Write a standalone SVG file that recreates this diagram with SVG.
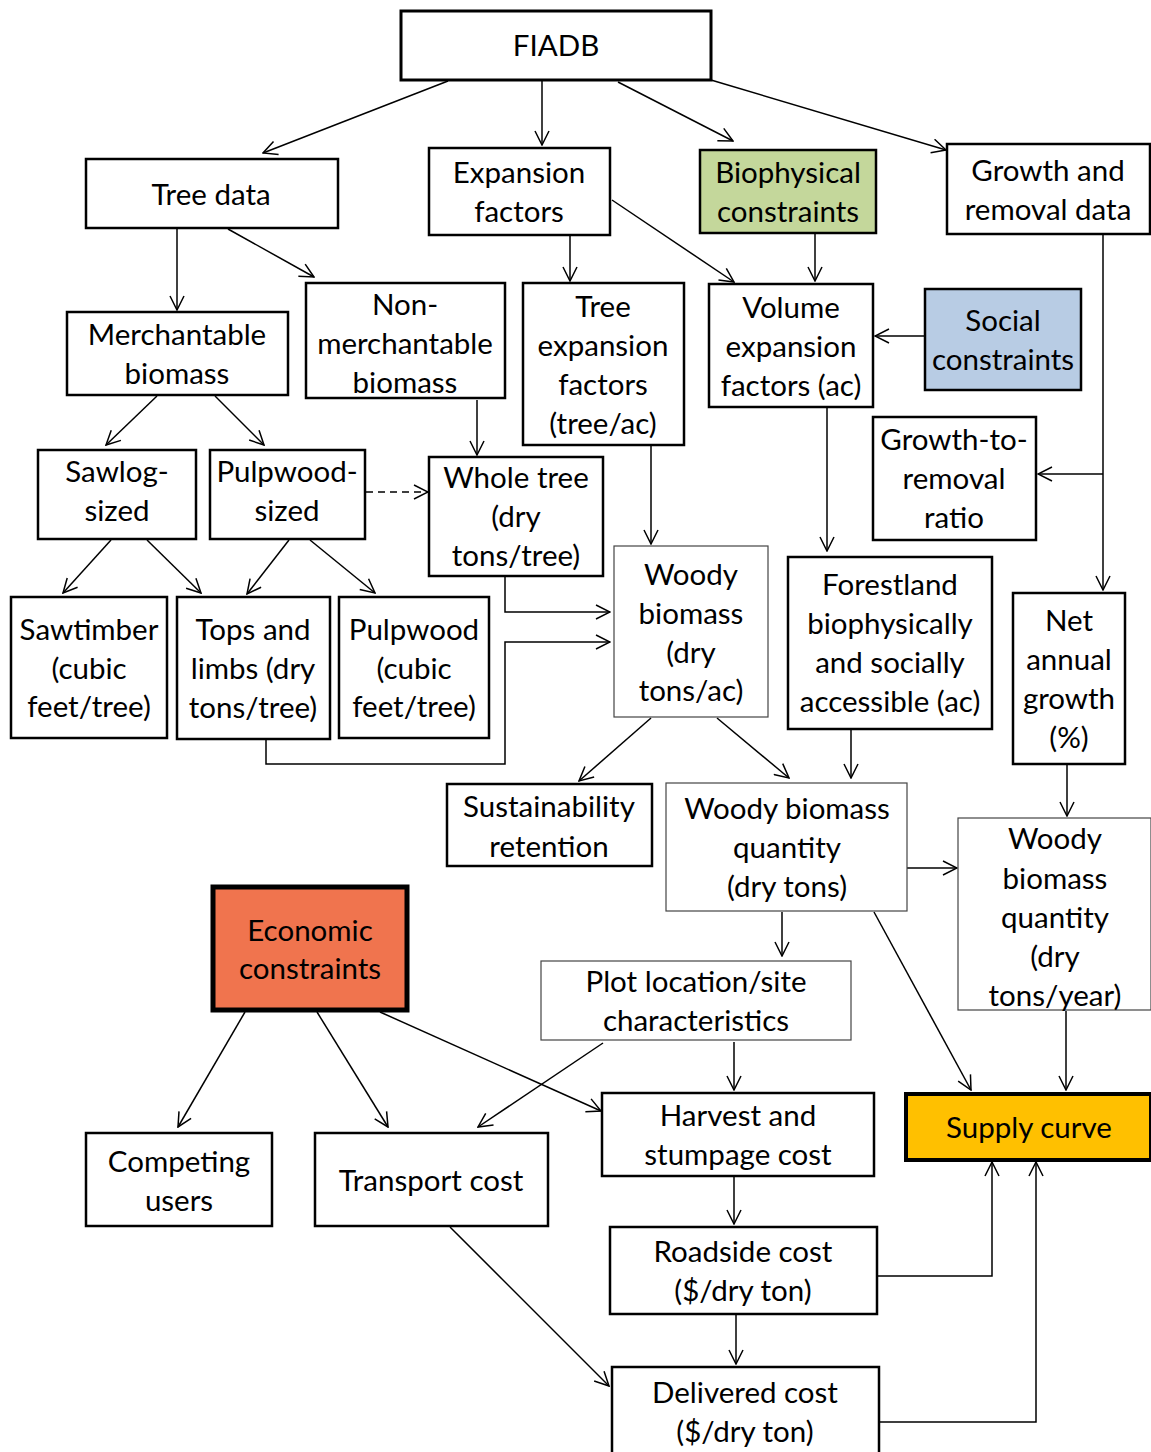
<svg xmlns="http://www.w3.org/2000/svg" width="1151" height="1452" viewBox="0 0 1151 1452">
<defs>
<marker id="ah" viewBox="0 0 16 16" refX="15" refY="8" markerWidth="16" markerHeight="16" markerUnits="userSpaceOnUse" orient="auto">
<path d="M1,1 L15,8 L1,15" fill="none" stroke="#000" stroke-width="1.5"/>
</marker>
<style>
rect{fill:#fff;stroke:#000;stroke-width:2.5}
rect.thin{stroke:#444;stroke-width:1.2}
text{font-family:Lato,"Open Sans",sans-serif;font-size:29.5px;text-anchor:middle;fill:#000}
#conn path,#conn line{fill:none;stroke:#000;stroke-width:1.5;marker-end:url(#ah)}
</style>
</defs>
<rect width="1151" height="1452" style="fill:#fff;stroke:none"/>
<g id="conn">
<line x1="448" y1="81" x2="263" y2="153"/>
<line x1="542" y1="80" x2="542" y2="145"/>
<line x1="618" y1="82" x2="733" y2="141"/>
<line x1="711" y1="80" x2="946" y2="150"/>
<line x1="177" y1="229" x2="177" y2="310"/>
<line x1="228" y1="229" x2="314" y2="277"/>
<line x1="570" y1="236" x2="570" y2="281"/>
<line x1="612" y1="200" x2="734" y2="282"/>
<line x1="815" y1="234" x2="815" y2="281"/>
<line x1="925" y1="336" x2="875" y2="336"/>
<line x1="1103" y1="235" x2="1103" y2="590"/>
<line x1="1103" y1="474" x2="1038" y2="474"/>
<line x1="157" y1="396" x2="106" y2="445"/>
<line x1="215" y1="396" x2="264" y2="445"/>
<line x1="477" y1="400" x2="477" y2="455"/>
<line x1="366" y1="492" x2="428" y2="492" style="stroke-dasharray:7,5"/>
<line x1="111" y1="540" x2="63" y2="593"/>
<line x1="147" y1="540" x2="201" y2="593"/>
<line x1="289" y1="540" x2="247" y2="594"/>
<line x1="310" y1="540" x2="375" y2="593"/>
<line x1="651" y1="446" x2="651" y2="544"/>
<path d="M505,577 V612 H610"/>
<path d="M266,740 V764 H505 V642 H610"/>
<line x1="827" y1="408" x2="827" y2="551"/>
<line x1="651" y1="718" x2="579" y2="781"/>
<line x1="717" y1="718" x2="789" y2="778"/>
<line x1="851" y1="730" x2="851" y2="778"/>
<line x1="1067" y1="765" x2="1067" y2="816"/>
<line x1="907" y1="868" x2="957" y2="868"/>
<line x1="782" y1="912" x2="782" y2="956"/>
<line x1="874" y1="912" x2="971" y2="1090"/>
<line x1="1066" y1="1011" x2="1066" y2="1090"/>
<line x1="245" y1="1012" x2="178" y2="1127"/>
<line x1="317" y1="1012" x2="388" y2="1127"/>
<line x1="380" y1="1012" x2="601" y2="1111"/>
<line x1="603" y1="1043" x2="478" y2="1127"/>
<line x1="734" y1="1042" x2="734" y2="1090"/>
<line x1="734" y1="1177" x2="734" y2="1224"/>
<line x1="736" y1="1315" x2="736" y2="1364"/>
<line x1="450" y1="1227" x2="609" y2="1386"/>
<path d="M877,1276 H992 V1162"/>
<path d="M879,1422 H1036 V1162"/>
</g>
<g id="n-fiadb"><rect x="401" y="11" width="310" height="69" style="stroke-width:3"/><text x="556" y="56">FIADB</text></g>
<g id="n-treedata"><rect x="86" y="159" width="252" height="69"/><text x="211" y="205">Tree data</text></g>
<g id="n-expansion"><rect x="429" y="148" width="181" height="87"/><text x="519" y="183">Expansion</text><text x="519" y="222">factors</text></g>
<g id="n-biophys"><rect x="700" y="150" width="176" height="83" style="fill:#C4D79B"/><text x="788" y="183">Biophysical</text><text x="788" y="222">constraints</text></g>
<g id="n-growth"><rect x="947" y="144" width="203" height="90"/><text x="1048" y="181">Growth and</text><text x="1048" y="220">removal data</text></g>
<g id="n-merch"><rect x="67" y="312" width="221" height="83"/><text x="177" y="345">Merchantable</text><text x="177" y="384">biomass</text></g>
<g id="n-nonmerch"><rect x="306" y="283" width="199" height="115"/><text x="405" y="315">Non-</text><text x="405" y="354">merchantable</text><text x="405" y="393">biomass</text></g>
<g id="n-treeexp"><rect x="523" y="283" width="161" height="162"/><text x="603" y="317">Tree</text><text x="603" y="356">expansion</text><text x="603" y="395">factors</text><text x="603" y="434">(tree/ac)</text></g>
<g id="n-volexp"><rect x="709" y="284" width="164" height="123"/><text x="791" y="318">Volume</text><text x="791" y="357">expansion</text><text x="791" y="396">factors (ac)</text></g>
<g id="n-social"><rect x="925" y="289" width="156" height="101" style="fill:#B8CCE4"/><text x="1003" y="331">Social</text><text x="1003" y="370">constraints</text></g>
<g id="n-gtr"><rect x="873" y="417" width="163" height="123"/><text x="954" y="450">Growth-to-</text><text x="954" y="489">removal</text><text x="954" y="528">ratio</text></g>
<g id="n-sawlog"><rect x="38" y="450" width="158" height="89"/><text x="117" y="482">Sawlog-</text><text x="117" y="521">sized</text></g>
<g id="n-pulpsized"><rect x="210" y="450" width="155" height="89"/><text x="287" y="482">Pulpwood-</text><text x="287" y="521">sized</text></g>
<g id="n-whole"><rect x="429" y="457" width="174" height="119"/><text x="516" y="488">Whole tree</text><text x="516" y="527">(dry</text><text x="516" y="566">tons/tree)</text></g>
<g id="n-woody"><rect class="thin" x="614" y="546" width="154" height="171"/><text x="691" y="585">Woody</text><text x="691" y="624">biomass</text><text x="691" y="663">(dry</text><text x="691" y="701">tons/ac)</text></g>
<g id="n-forest"><rect x="788" y="557" width="204" height="172"/><text x="890" y="595">Forestland</text><text x="890" y="634">biophysically</text><text x="890" y="673">and socially</text><text x="890" y="712">accessible (ac)</text></g>
<g id="n-nag"><rect x="1013" y="593" width="112" height="171"/><text x="1069" y="631">Net</text><text x="1069" y="670">annual</text><text x="1069" y="709">growth</text><text x="1069" y="748">(%)</text></g>
<g id="n-sawtimber"><rect x="11" y="597" width="156" height="141"/><text x="89" y="640">Sawtimber</text><text x="89" y="679">(cubic</text><text x="89" y="717">feet/tree)</text></g>
<g id="n-tops"><rect x="177" y="597" width="153" height="142"/><text x="253" y="640">Tops and</text><text x="253" y="679">limbs (dry</text><text x="253" y="718">tons/tree)</text></g>
<g id="n-pulpwood"><rect x="339" y="597" width="150" height="141"/><text x="414" y="640">Pulpwood</text><text x="414" y="679">(cubic</text><text x="414" y="717">feet/tree)</text></g>
<g id="n-sustain"><rect x="447" y="784" width="205" height="82"/><text x="549" y="817">Sustainability</text><text x="549" y="857">retention</text></g>
<g id="n-wbq"><rect class="thin" x="666" y="783" width="241" height="128"/><text x="787" y="819">Woody biomass</text><text x="787" y="858">quantity</text><text x="787" y="897">(dry tons)</text></g>
<g id="n-wbqy"><rect class="thin" x="958" y="818" width="193" height="192"/><text x="1055" y="849">Woody</text><text x="1055" y="889">biomass</text><text x="1055" y="928">quantity</text><text x="1055" y="967">(dry</text><text x="1055" y="1006">tons/year)</text></g>
<g id="n-econ"><rect x="213" y="887" width="194" height="123" style="fill:#F0744E;stroke-width:5"/><text x="310" y="941">Economic</text><text x="310" y="979">constraints</text></g>
<g id="n-plot"><rect class="thin" x="541" y="961" width="310" height="79"/><text x="696" y="992">Plot location/site</text><text x="696" y="1031">characteristics</text></g>
<g id="n-harvest"><rect x="602" y="1093" width="272" height="83"/><text x="738" y="1126">Harvest and</text><text x="738" y="1165">stumpage cost</text></g>
<g id="n-supply"><rect x="906" y="1094" width="245" height="66" style="fill:#FFC000;stroke-width:4"/><text x="1029" y="1138">Supply curve</text></g>
<g id="n-competing"><rect x="86" y="1133" width="186" height="93"/><text x="179" y="1172">Competing</text><text x="179" y="1211">users</text></g>
<g id="n-transport"><rect x="315" y="1133" width="233" height="93"/><text x="431" y="1191">Transport cost</text></g>
<g id="n-roadside"><rect x="610" y="1227" width="267" height="87"/><text x="743" y="1262">Roadside cost</text><text x="743" y="1301">($/dry ton)</text></g>
<g id="n-delivered"><rect x="612" y="1367" width="267" height="95"/><text x="745" y="1403">Delivered cost</text><text x="745" y="1442">($/dry ton)</text></g>
</svg>
